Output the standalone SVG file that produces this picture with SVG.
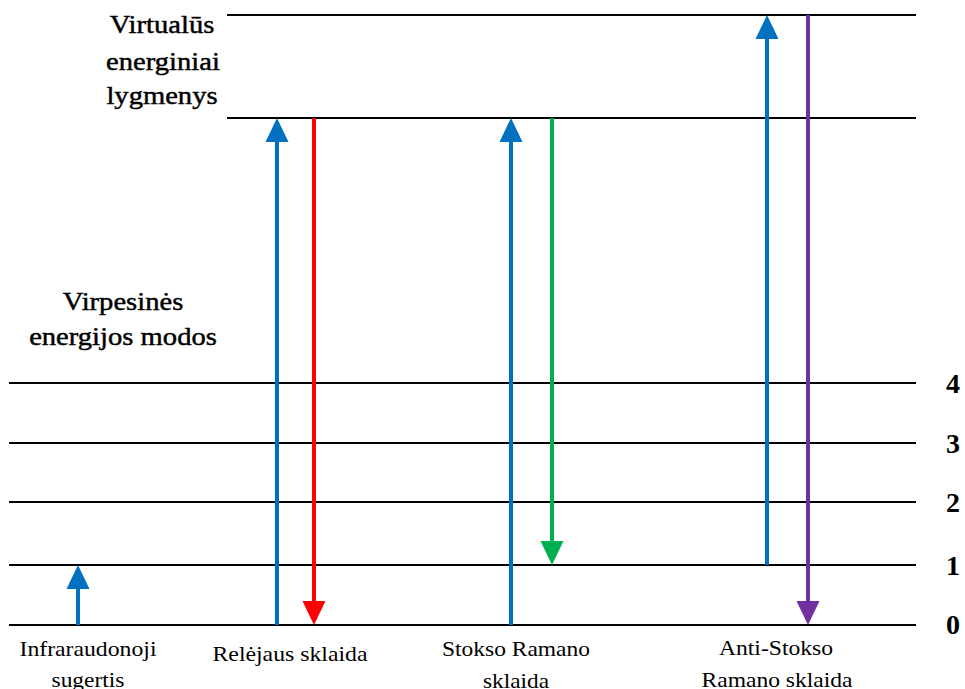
<svg xmlns="http://www.w3.org/2000/svg" width="965" height="689" viewBox="0 0 965 689">
<style>
.lvl{stroke:#000;stroke-width:2;fill:none}
.t{font-family:"Liberation Serif","Times New Roman",serif;fill:#000}
.big{font-size:26px;stroke:#000;stroke-width:0.45px}
.small{font-size:21px}
.num{font-size:28px;font-weight:bold}
.ar{stroke-width:4;fill:none}
</style>
<defs>
<marker id="hb" markerUnits="userSpaceOnUse" markerWidth="24" markerHeight="24" refX="0" refY="11.5" orient="auto" overflow="visible"><path d="M0,0 L24,11.5 L0,23 z" fill="#0070C0"/></marker>
<marker id="hr" markerUnits="userSpaceOnUse" markerWidth="24" markerHeight="24" refX="0" refY="11.5" orient="auto" overflow="visible"><path d="M0,0 L24,11.5 L0,23 z" fill="#FF0000"/></marker>
<marker id="hg" markerUnits="userSpaceOnUse" markerWidth="24" markerHeight="24" refX="0" refY="11.5" orient="auto" overflow="visible"><path d="M0,0 L24,11.5 L0,23 z" fill="#00B050"/></marker>
<marker id="hp" markerUnits="userSpaceOnUse" markerWidth="24" markerHeight="24" refX="0" refY="11.5" orient="auto" overflow="visible"><path d="M0,0 L24,11.5 L0,23 z" fill="#7030A0"/></marker>
</defs>
<rect width="965" height="689" fill="#fff"/>
<g id="levels">
<line class="lvl" x1="227" y1="15" x2="916" y2="15"/>
<line class="lvl" x1="227" y1="118" x2="916" y2="118"/>
<line class="lvl" x1="9" y1="383" x2="916" y2="383"/>
<line class="lvl" x1="9" y1="443" x2="916" y2="443"/>
<line class="lvl" x1="9" y1="502" x2="916" y2="502"/>
<line class="lvl" x1="9" y1="565" x2="916" y2="565"/>
<line class="lvl" x1="9" y1="625" x2="916" y2="625"/>
</g>
<g id="level-numbers" class="t num" text-anchor="middle">
<text x="953" y="393">4</text>
<text x="953" y="453">3</text>
<text x="953" y="512">2</text>
<text x="953" y="575">1</text>
<text x="953" y="634">0</text>
</g>
<g id="label-virtual" class="t big" text-anchor="middle">
<text transform="translate(162,33) scale(1.1,1)">Virtualūs</text>
<text transform="translate(163,70) scale(1.1,1)">energiniai</text>
<text transform="translate(162,104) scale(1.1,1)">lygmenys</text>
</g>
<g id="label-vibrational" class="t big" text-anchor="middle">
<text transform="translate(123,310) scale(1.1,1)">Virpesinės</text>
<text transform="translate(123,345) scale(1.1,1)">energijos modos</text>
</g>
<g id="label-ir" class="t small" text-anchor="middle">
<text x="88" y="656" textLength="137" lengthAdjust="spacingAndGlyphs">Infraraudonoji</text>
<text x="88" y="687" textLength="73" lengthAdjust="spacingAndGlyphs">sugertis</text>
</g>
<g id="label-rayleigh" class="t small" text-anchor="middle">
<text x="290" y="661" textLength="155" lengthAdjust="spacingAndGlyphs">Relėjaus sklaida</text>
</g>
<g id="label-stokes" class="t small" text-anchor="middle">
<text x="516" y="656" textLength="148" lengthAdjust="spacingAndGlyphs">Stokso Ramano</text>
<text x="516" y="688" textLength="66" lengthAdjust="spacingAndGlyphs">sklaida</text>
</g>
<g id="label-antistokes" class="t small" text-anchor="middle">
<text x="776" y="655" textLength="114" lengthAdjust="spacingAndGlyphs">Anti-Stokso</text>
<text x="777" y="687" textLength="151" lengthAdjust="spacingAndGlyphs">Ramano sklaida</text>
</g>
<g id="connectors">
<line class="ar" stroke="#0070C0" x1="78" y1="625" x2="78" y2="589" marker-end="url(#hb)"/>
<line class="ar" stroke="#0070C0" x1="277" y1="625" x2="277" y2="142" marker-end="url(#hb)"/>
<line class="ar" stroke="#FF0000" x1="314" y1="118" x2="314" y2="601" marker-end="url(#hr)"/>
<line class="ar" stroke="#0070C0" x1="511" y1="625" x2="511" y2="142" marker-end="url(#hb)"/>
<line class="ar" stroke="#00B050" x1="552" y1="118" x2="552" y2="541" marker-end="url(#hg)"/>
<line class="ar" stroke="#0070C0" x1="767" y1="565" x2="767" y2="39" marker-end="url(#hb)"/>
<line class="ar" stroke="#7030A0" x1="808" y1="15" x2="808" y2="601" marker-end="url(#hp)"/>
</g>
</svg>
